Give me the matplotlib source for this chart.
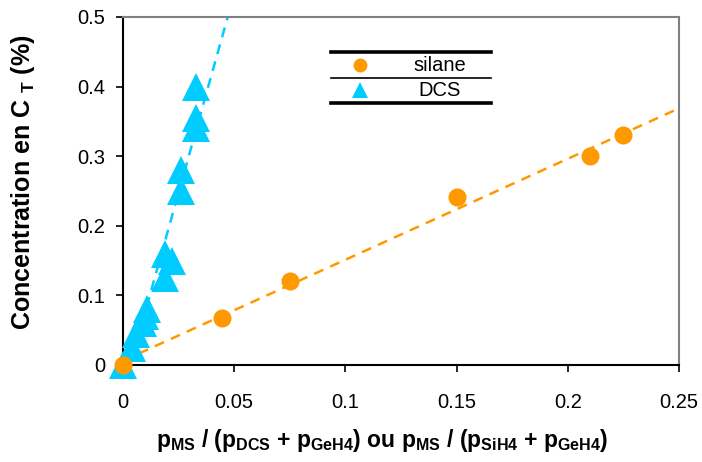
import numpy as np
import matplotlib
matplotlib.use('Agg')
import matplotlib.pyplot as plt
from matplotlib.lines import Line2D

plt.rcParams['font.family'] = ['Liberation Sans', 'DejaVu Sans']
plt.rcParams['mathtext.fontset'] = 'custom'
plt.rcParams['mathtext.bf'] = 'Liberation Sans:bold'
plt.rcParams['mathtext.rm'] = 'Liberation Sans:bold'

# silane series
silane_x = [0.0, 0.0445, 0.075, 0.15, 0.21, 0.225]
silane_y = [0.0, 0.068, 0.12, 0.241, 0.30, 0.33]
# DCS series
dcs_x = [0.0, 0.004, 0.006, 0.009, 0.010, 0.011, 0.019, 0.019, 0.022, 0.026, 0.026, 0.033, 0.033, 0.033]
dcs_y = [0.0, 0.025, 0.045, 0.060, 0.070, 0.080, 0.125, 0.160, 0.150, 0.250, 0.280, 0.340, 0.355, 0.400]

x_ticks = [0, 0.05, 0.1, 0.15, 0.2, 0.25]
x_labels = ['0', '0.05', '0.1', '0.15', '0.2', '0.25']
y_ticks = [0, 0.1, 0.2, 0.3, 0.4, 0.5]
y_labels = ['0', '0.1', '0.2', '0.3', '0.4', '0.5']

orange = '#FF9900'
cyan = '#00CCFF'

W, H = 702, 462
fig = plt.figure(figsize=(W / 100, H / 100), dpi=100)
ax = fig.add_axes([123 / W, 1 - 365 / H, (679 - 123) / W, (365 - 17) / H])

# trend lines
xs = np.linspace(0, 0.25, 200)
a, b = np.polyfit(silane_x, silane_y, 1)
ax.plot(xs, a * xs + b, color=orange, lw=1.8, ls=(0, (4, 3)))
a2, b2 = np.polyfit(dcs_x, dcs_y, 1)
ax.plot(xs, a2 * xs + b2, color=cyan, lw=1.8, ls=(0, (4, 3)))

ax.plot(dcs_x, dcs_y, '^', color=cyan, ms=20, mew=0, clip_on=False, zorder=3)
ax.plot(silane_x, silane_y, 'o', color=orange, ms=13, mew=0, clip_on=False, zorder=4)

ax.set_xlim(0, 0.25)
ax.set_ylim(0, 0.5)
ax.set_xticks(x_ticks)
ax.set_xticklabels(x_labels)
ax.set_yticks(y_ticks)
ax.set_yticklabels(y_labels)
ax.tick_params(direction='out', length=5, width=1.2, labelsize=14.5, color='black')
ax.tick_params(axis='x', pad=15)
ax.tick_params(axis='y', pad=8)

for s in ['left', 'bottom']:
    ax.spines[s].set_color('black')
    ax.spines[s].set_linewidth(1.5)
for s in ['top', 'right']:
    ax.spines[s].set_color('#808080')
    ax.spines[s].set_linewidth(1.5)

ax.set_xlabel(r'p$_{\mathbf{MS}}$ / (p$_{\mathbf{DCS}}$ + p$_{\mathbf{GeH4}}$) ou '
              r'p$_{\mathbf{MS}}$ / (p$_{\mathbf{SiH4}}$ + p$_{\mathbf{GeH4}}$)',
              fontsize=16.5, fontweight='bold', va='center')
ax.xaxis.set_label_coords((382 - 123) / 556, (365 - 440) / 348)
ax.set_ylabel(r'Concentration en C$\;_{\mathbf{T}}$ (%)', fontsize=18,
              fontweight='bold', va='center')
ax.yaxis.set_label_coords((23 - 123) / 556, (365 - 182) / 348)

# legend box drawn by hand
def fx(x):
    return x / W

def fy(y):
    return 1 - y / H

fig.add_artist(Line2D([fx(331), fx(491)], [fy(51.7), fy(51.7)], color='black', lw=2.6))
fig.add_artist(Line2D([fx(331), fx(491)], [fy(77.7), fy(77.7)], color='black', lw=1.2))
fig.add_artist(Line2D([fx(331), fx(491)], [fy(103), fy(103)], color='black', lw=2.6))
fig.add_artist(Line2D([fx(360)], [fy(65)], marker='o', color=orange, ms=10, mew=0))
fig.add_artist(Line2D([fx(360)], [fy(90)], marker='^', color=cyan, ms=11, mew=0))
fig.text(fx(440), fy(65), 'silane', fontsize=14.5, ha='center', va='center')
fig.text(fx(440), fy(90), 'DCS', fontsize=14.5, ha='center', va='center')

fig.savefig('out.png', dpi=100)
